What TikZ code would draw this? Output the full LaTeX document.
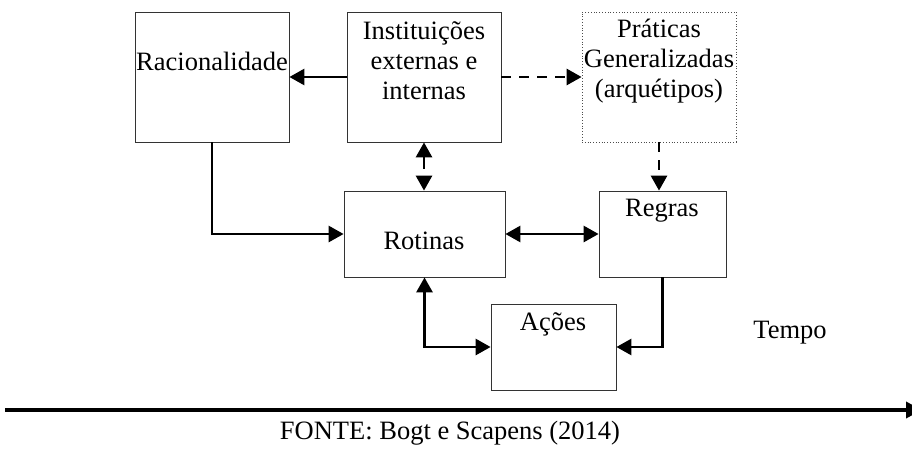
\documentclass[tikz,border=0pt]{standalone}
\usepackage{fontspec}
\setmainfont{Liberation Serif}
\usetikzlibrary{arrows.meta}
\begin{document}
\begin{tikzpicture}[x=1pt,y=-1pt,
  box/.style={draw=black!80,line width=0.8pt,rectangle,inner sep=0pt},
  dotbox/.style={draw=black!70,line width=0.8pt,dotted,rectangle,inner sep=0pt},
  txt/.style={font=\fontsize{26.5}{30}\selectfont,align=center,inner sep=0pt},
  link/.style={line width=2.8pt,-{Triangle[length=15pt,width=16pt]}},
  twoway/.style={line width=2.8pt,{Triangle[length=15pt,width=16pt]}-{Triangle[length=15pt,width=16pt]}},
  dashes/.style={dash pattern=on 10pt off 8pt}
]
\useasboundingbox (0,0) rectangle (912,450);

% boxes
\node[box,minimum width=154,minimum height=130] (rac) at (212,77) {};
\node[box,minimum width=154,minimum height=130] (inst) at (424,77) {};
\node[dotbox,minimum width=154,minimum height=130] (prat) at (659,77) {};
\node[box,minimum width=161,minimum height=86] (rot) at (424.5,234) {};
\node[box,minimum width=127,minimum height=86] (reg) at (662.5,234) {};
\node[box,minimum width=125,minimum height=86] (aco) at (553.5,347) {};

% texts
\node[txt] (racT) at (212,61) {Racionalidade};
\node[txt] (instT) at (424,61) {Instituições\\externas e\\internas};
\node[txt] (pratT) at (659,61) {Práticas\\Generalizadas\\(arquétipos)};
\node[txt] (rotT) at (424,241) {Rotinas};
\node[txt] (regT) at (662,211) {Regras};
\node[txt] (acoT) at (553,324) {Ações};
\node[txt] (tempo) at (790,333) {Tempo};
\node[txt] (fonte) at (450,433) {FONTE: Bogt e Scapens (2014)};

% connectors
\draw[link] (inst.west) -- (rac.east);
\draw[link,dashes] (inst.east) -- (prat.west);
\draw[twoway,dash pattern=on 12pt off 9pt] (inst.south) -- (inst.south |- rot.north);
\draw[link,dashes] (prat.south) -- (prat.south |- reg.north);
\draw[link] (rac.south) |- (rot.west);
\draw[twoway] (rot.east) -- (reg.west);
\draw[twoway] (rot.south) |- (aco.west);
\draw[link] (reg.south) |- (aco.east);

% time axis
\coordinate (t0) at (5,410);
\coordinate (t1) at (922,410);
\draw[line width=3.5pt,-{Triangle[length=16pt,width=16pt]}] (t0) -- (t1);
\end{tikzpicture}
\end{document}
